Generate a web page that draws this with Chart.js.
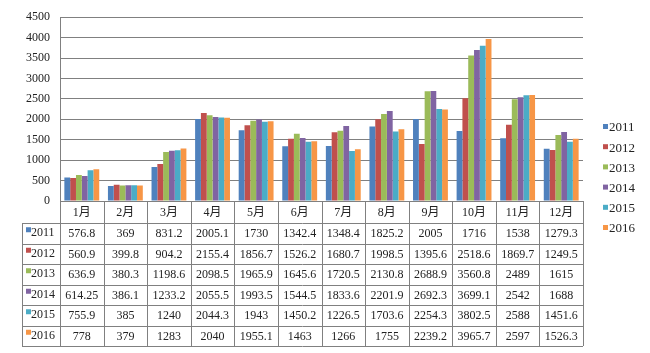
<!DOCTYPE html>
<html>
<head>
<meta charset="utf-8">
<script src="https://cdn.jsdelivr.net/npm/chart.js@4.4.0/dist/chart.umd.min.js"></script>
<style>
  html, body { margin: 0; padding: 0; background: #fff; }
  #wrap { width: 650px; height: 353px; position: relative; }
</style>
</head>
<body>
<div id="wrap"><canvas id="c" width="650" height="353"></canvas></div>
<script>
const months = ['1月', '2月', '3月', '4月', '5月', '6月', '7月', '8月', '9月', '10月', '11月', '12月'];
const years = ['2011', '2012', '2013', '2014', '2015', '2016'];
const v2011 = [576.8, 369, 831.2, 2005.1, 1730, 1342.4, 1348.4, 1825.2, 2005, 1716, 1538, 1279.3];
const v2012 = [560.9, 399.8, 904.2, 2155.4, 1856.7, 1526.2, 1680.7, 1998.5, 1395.6, 2518.6, 1869.7, 1249.5];
const v2013 = [636.9, 380.3, 1198.6, 2098.5, 1965.9, 1645.6, 1720.5, 2130.8, 2688.9, 3560.8, 2489, 1615];
const v2014 = [614.25, 386.1, 1233.2, 2055.5, 1993.5, 1544.5, 1833.6, 2201.9, 2692.3, 3699.1, 2542, 1688];
const v2015 = [755.9, 385, 1240, 2044.3, 1943, 1450.2, 1226.5, 1703.6, 2254.3, 3802.5, 2588, 1451.6];
const v2016 = [778, 379, 1283, 2040, 1955.1, 1463, 1266, 1755, 2239.2, 3965.7, 2597, 1526.3];
const yTicks = [0, 500, 1000, 1500, 2000, 2500, 3000, 3500, 4000, 4500];

const seriesValues = [v2011, v2012, v2013, v2014, v2015, v2016];
const colors = ['#4F81BD', '#C0504D', '#9BBB59', '#8064A2', '#4BACC6', '#F79646'];

const FONT = '"Liberation Serif", "Noto Sans CJK SC", serif';
const LINE = '#808080';

// data table under the plot + legend on the right
const tablePlugin = {
  id: 'dataTable',
  afterDraw(chart) {
    const ctx = chart.ctx;
    const area = chart.chartArea;
    const left = area.left;
    const right = area.right;
    const colW = (right - left) / months.length;
    const top = area.bottom;
    const headH = 22;
    const rowH = 20.5;
    const labelLeft = 22;
    const bottom = top + headH + rowH * years.length;

    ctx.save();
    ctx.strokeStyle = LINE;
    ctx.lineWidth = 1;
    ctx.beginPath();
    // horizontal lines
    ctx.moveTo(left, top + 0.5); ctx.lineTo(right, top + 0.5);
    for (let r = 0; r <= years.length; r++) {
      const y = Math.round(top + headH + r * rowH) + 0.5;
      ctx.moveTo(labelLeft, y); ctx.lineTo(right, y);
    }
    // vertical lines
    for (let c = 0; c <= months.length; c++) {
      const x = Math.round(left + c * colW) + 0.5;
      ctx.moveTo(x, top); ctx.lineTo(x, bottom);
    }
    ctx.moveTo(labelLeft + 0.5, top + headH); ctx.lineTo(labelLeft + 0.5, bottom);
    ctx.stroke();

    ctx.fillStyle = '#222';
    ctx.font = '12px ' + FONT;
    ctx.textAlign = 'center';
    ctx.textBaseline = 'middle';
    months.forEach((m, c) => {
      ctx.fillText(m, left + (c + 0.5) * colW, top + headH / 2 + 1);
    });
    years.forEach((yr, r) => {
      const cy = top + headH + (r + 0.5) * rowH;
      ctx.fillStyle = colors[r];
      ctx.fillRect(labelLeft + 4, cy - 6, 5, 5);
      ctx.fillStyle = '#222';
      ctx.textAlign = 'left';
      ctx.fillText(yr, labelLeft + 9, cy);
      ctx.textAlign = 'center';
      seriesValues[r].forEach((v, c) => {
        ctx.fillText(String(v), left + (c + 0.5) * colW, cy + 1);
      });
    });

    // legend
    ctx.font = '13px ' + FONT;
    ctx.textAlign = 'left';
    years.forEach((yr, r) => {
      const cy = 128 + r * 20.2;
      ctx.fillStyle = colors[r];
      ctx.fillRect(603, cy - 4, 5, 5);
      ctx.fillStyle = '#222';
      ctx.fillText(yr, 609, cy);
    });
    ctx.restore();
  }
};

new Chart(document.getElementById('c'), {
  type: 'bar',
  data: {
    labels: months,
    datasets: years.map((yr, i) => ({
      label: yr,
      data: seriesValues[i],
      backgroundColor: colors[i],
      borderWidth: 0,
      barPercentage: 1.0,
      categoryPercentage: 0.8,
    })),
  },
  options: {
    responsive: false,
    animation: false,
    devicePixelRatio: 1,
    layout: { padding: { left: 0, right: 67, top: 15, bottom: 152 } },
    plugins: {
      legend: { display: false },
      tooltip: { enabled: false },
    },
    scales: {
      x: {
        ticks: { display: false },
        grid: { display: false },
        border: { display: false },
        afterFit(scale) { scale.height = 0; },
      },
      y: {
        min: 0,
        max: 4500,
        afterBuildTicks(scale) { scale.ticks = yTicks.map(v => ({ value: v })); },
        afterFit(scale) { scale.width = 60; },
        ticks: {
          color: '#222',
          padding: 10,
          font: { family: FONT, size: 12 },
          callback(value) { return String(value); },
        },
        grid: { color: LINE, lineWidth: 1, drawTicks: false },
        border: { display: true, color: LINE, width: 1 },
      },
    },
  },
  plugins: [tablePlugin],
});
</script>
</body>
</html>
